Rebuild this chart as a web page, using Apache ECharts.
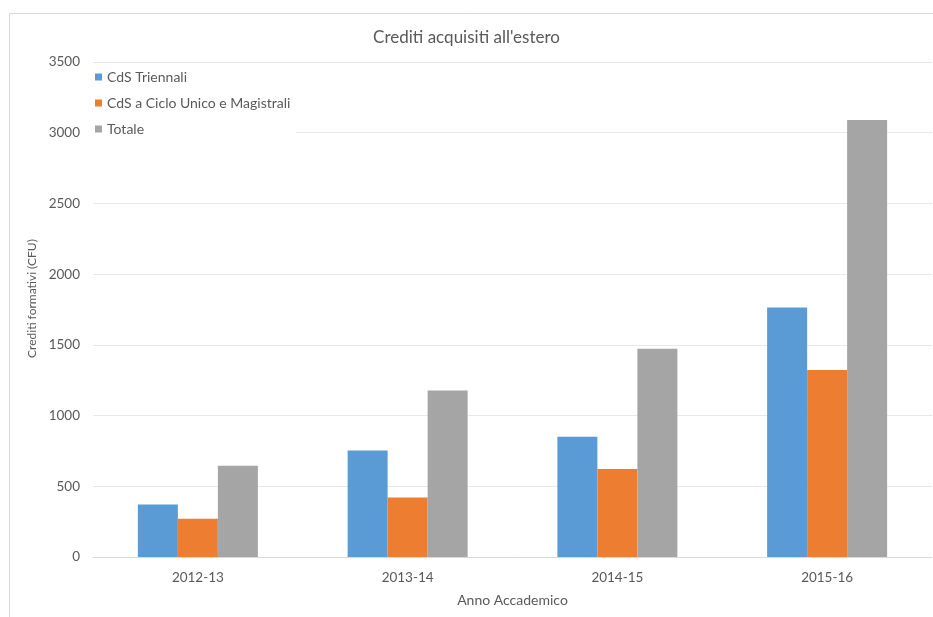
<!DOCTYPE html>
<html>
<head>
<meta charset="utf-8">
<script src="https://cdn.jsdelivr.net/npm/echarts@6/dist/echarts.min.js"></script>
<style>
html,body{margin:0;padding:0;background:#fff;}
#chart{width:933px;height:617px;}
</style>
</head>
<body>
<div id="chart"></div>
<script>
const categories = ['2012-13', '2013-14', '2014-15', '2015-16'];
const seriesNames = ['CdS Triennali', 'CdS a Ciclo Unico e Magistrali', 'Totale'];
const triennali = [372, 753, 850, 1765];
const cicloUnicoMagistrali = [270, 420, 622, 1322];
const totale = [645, 1178, 1472, 3090];
const yTicks = { min: 0, max: 3500, interval: 500 };

const FONT = 'Lato';
const TXT = '#595959';
const colors = ['#5B9BD5', '#ED7D31', '#A5A5A5'];

const chart = echarts.init(document.getElementById('chart'), null, { renderer: 'canvas' });
chart.setOption({
  animation: false,
  backgroundColor: '#ffffff',
  color: colors,
  textStyle: { fontFamily: FONT },
  graphic: [{
    type: 'rect',
    shape: { x: 9.5, y: 13.5, width: 1000, height: 1000 },
    style: { fill: 'none', stroke: '#d9d9d9', lineWidth: 1 },
    silent: true, z: -1
  }],
  title: {
    text: "Crediti acquisiti all'estero",
    left: 'center',
    top: 24,
    textStyle: { fontFamily: FONT, fontSize: 17, fontWeight: 'normal', color: TXT }
  },
  legend: {
    orient: 'vertical',
    left: 90,
    top: 65,
    padding: [5, 6, 5, 5],
    backgroundColor: '#ffffff',
    itemWidth: 7,
    itemHeight: 7,
    itemGap: 12,
    icon: 'rect',
    textStyle: { fontFamily: FONT, fontSize: 14, color: TXT, lineHeight: 14 },
    data: seriesNames
  },
  grid: { left: 93, right: 1, top: 62, bottom: 60, containLabel: false },
  xAxis: {
    type: 'category',
    data: categories,
    name: 'Anno Accademico',
    nameLocation: 'middle',
    nameGap: 36,
    nameTextStyle: { fontFamily: FONT, fontSize: 14, color: TXT },
    axisLine: { lineStyle: { color: '#d9d9d9' } },
    axisTick: { show: false },
    axisLabel: { fontFamily: FONT, fontSize: 13.5, color: TXT, margin: 14 }
  },
  yAxis: {
    type: 'value',
    min: yTicks.min,
    max: yTicks.max,
    interval: yTicks.interval,
    name: 'Crediti formativi (CFU)',
    nameLocation: 'middle',
    nameGap: 54,
    nameTextStyle: { fontFamily: FONT, fontSize: 12, color: TXT, padding: [0, 0, 0, 22] },
    axisLine: { show: false },
    axisTick: { show: false },
    axisLabel: { fontFamily: FONT, fontSize: 13.5, color: TXT, margin: 13, formatter: function (v) { return String(v); } },
    splitLine: { lineStyle: { color: '#e8e8e8' } }
  },
  series: [
    { name: seriesNames[0], type: 'bar', data: triennali, barWidth: 40, barGap: '0%' },
    { name: seriesNames[1], type: 'bar', data: cicloUnicoMagistrali, barWidth: 40, barGap: '0%' },
    { name: seriesNames[2], type: 'bar', data: totale, barWidth: 40, barGap: '0%' }
  ]
});
</script>
</body>
</html>
